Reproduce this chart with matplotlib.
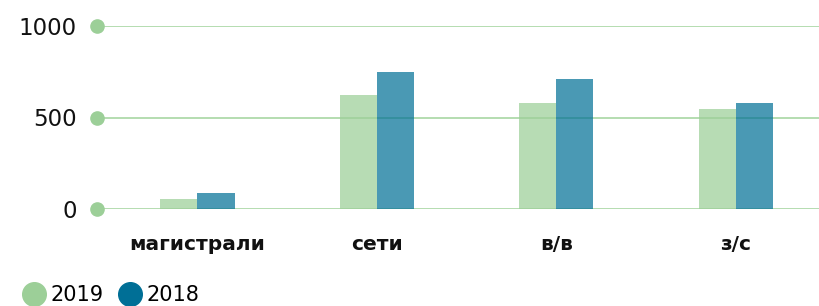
import matplotlib
matplotlib.use("Agg")
import matplotlib.pyplot as plt
import numpy as np
from matplotlib.lines import Line2D

categories = ["магистрали", "сети", "в/в", "з/с"]
values_2019 = [55, 623, 579, 546]
values_2018 = [87, 749, 710, 579]
series_names = ["2019", "2018"]
y_ticks = [0, 500, 1000]

green = "#9ccf98"
blue = "#006f96"
grid_color = "#a8d7a3"

plt.rcParams["font.family"] = ["DejaVu Sans"]

fig = plt.figure(figsize=(8.2, 3.06), dpi=100)
ax = fig.add_axes([97 / 820, (306 - 209) / 306, 1 - 97 / 820, 183 / 306])

x = np.arange(len(categories))
w = 0.207
ax.bar(x - w / 2, values_2019, width=w, color=green, alpha=0.72, zorder=2)
ax.bar(x + w / 2, values_2018, width=w, color=blue, alpha=0.71, zorder=2)

ax.set_xlim(-0.56, 3.47)
ax.set_ylim(0, 1000)

# линии сетки + кружки слева
for t in y_ticks:
    ax.axhline(t, color=grid_color, lw=1.2, zorder=1)
ax.plot([-0.56] * len(y_ticks), y_ticks, "o", color=green, ms=9.5,
        clip_on=False, zorder=3)

for s in ax.spines.values():
    s.set_visible(False)
ax.set_yticks(y_ticks)
ax.set_yticklabels([str(t) for t in y_ticks], fontsize=16.5, color="#111111")
ax.tick_params(axis="y", length=0, pad=14.5)
ax.set_xticks(x)
ax.set_xticklabels(categories, fontsize=14.5, color="#111111",
                   fontweight="bold")
ax.tick_params(axis="x", length=0, pad=19)

handles = [Line2D([], [], marker="o", ls="", color=green, ms=17),
           Line2D([], [], marker="o", ls="", color=blue, ms=17)]
fig.legend(handles, series_names, loc="center left",
           bbox_to_anchor=(23.5 / 820, 1 - 295 / 306), ncol=2, frameon=False,
           fontsize=15, handletextpad=0.3, columnspacing=0.77,
           borderaxespad=0, borderpad=0, handlelength=1.0)

fig.savefig("out.png", dpi=100)
